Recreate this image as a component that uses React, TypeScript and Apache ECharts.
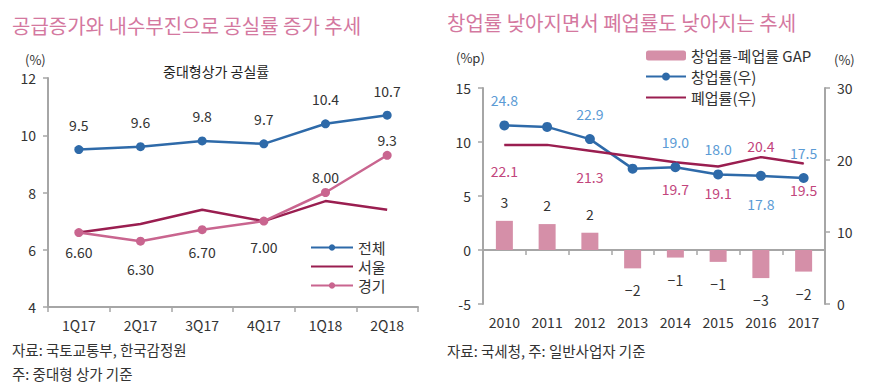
import React, { useEffect, useRef } from "react";
import * as echarts from "echarts";

const quarters = ["1Q17", "2Q17", "3Q17", "4Q17", "1Q18", "2Q18"];
const totalRate = [9.5, 9.6, 9.8, 9.7, 10.4, 10.7];
const seoulRate = [6.6, 6.9, 7.4, 7.0, 7.7, 7.4];
const gyeonggiRate = [6.6, 6.3, 6.7, 7.0, 8.0, 9.3];
const gyeonggiLabels = ["6.60", "6.30", "6.70", "7.00", "8.00", "9.3"];

const years = ["2010", "2011", "2012", "2013", "2014", "2015", "2016", "2017"];
const gapValues = [2.7, 2.4, 1.6, -1.7, -0.7, -1.1, -2.6, -2.0];
const startupRate = [24.8, 24.6, 22.9, 18.8, 19.0, 18.0, 17.8, 17.5];
const closureRate = [22.1, 22.1, 21.3, 20.5, 19.7, 19.1, 20.4, 19.5];
const startupLabelShown = [true, false, true, false, true, true, true, true];
const closureLabelShown = [true, false, true, false, true, true, true, true];

const FONT = "'Noto Sans CJK KR', 'Noto Sans', sans-serif";
const BLUE = "#2e6aa9";
const MAROON = "#9a1e50";
const PINK = "#c9658f";
const BAR = "#d58fa8";
const AXIS = "#a6a6a6";
const TXT = "#333333";
const TITLE = "#d4789f";

export default function App() {
  const ref = useRef<HTMLDivElement>(null);
  useEffect(() => {
    document.body.style.margin = "0";
    if (!ref.current) return;
    const chart = echarts.init(ref.current, null, { renderer: "svg" });
    const axisLine = { show: true, lineStyle: { color: AXIS, width: 2 } };
    const axisTick = { show: true, length: 5, lineStyle: { color: AXIS, width: 1.5 } };
    const axisLabel = { color: TXT, fontSize: 14, fontFamily: FONT };

    const option: any = {
      animation: false,
      textStyle: { fontFamily: FONT },
      graphic: [
        { type: "text", left: 12, top: 15, style: { text: "공급증가와 내수부진으로 공실률 증가 추세", fill: TITLE, font: `20px ${FONT}` } },
        { type: "text", left: 25, top: 53, style: { text: "(%)", fill: TXT, font: `13px ${FONT}` } },
        { type: "text", left: 163, top: 64, style: { text: "중대형상가 공실률", fill: "#222", font: `14px ${FONT}` } },
        { type: "text", left: 12, top: 342, style: { text: "자료: 국토교통부, 한국감정원", fill: TXT, font: `14.5px ${FONT}` } },
        { type: "text", left: 12, top: 366, style: { text: "주: 중대형 상가 기준", fill: TXT, font: `14.5px ${FONT}` } },
        { type: "text", left: 447, top: 12, style: { text: "창업률 낮아지면서 폐업률도 낮아지는 추세", fill: TITLE, font: `20px ${FONT}` } },
        { type: "text", left: 456, top: 51, style: { text: "(%p)", fill: TXT, font: `13px ${FONT}` } },
        { type: "text", left: 834, top: 53, style: { text: "(%)", fill: TXT, font: `13px ${FONT}` } },
        { type: "text", left: 447, top: 343, style: { text: "자료: 국세청, 주: 일반사업자 기준", fill: TXT, font: `14.5px ${FONT}` } },
      ],
      legend: [
        {
          orient: "vertical",
          left: 310,
          top: 240,
          padding: 0,
          itemWidth: 42,
          itemHeight: 8,
          itemGap: 4,
          data: ["전체", { name: "서울", itemStyle: { opacity: 0 } }, "경기"],
          textStyle: { color: TXT, fontSize: 15, fontFamily: FONT },
        },
        {
          orient: "vertical",
          left: 645,
          top: 48,
          padding: 0,
          itemWidth: 40,
          itemHeight: 10,
          itemGap: 6,
          data: [
            "창업률-폐업률 GAP",
            "창업률(우)",
            { name: "폐업률(우)", itemStyle: { opacity: 0 } },
          ],
          textStyle: { color: TXT, fontSize: 15, fontFamily: FONT },
        },
      ],
      grid: [
        { left: 48, top: 78, width: 370, height: 229 },
        { left: 483, top: 88, width: 342, height: 216 },
      ],
      xAxis: [
        {
          type: "category",
          gridIndex: 0,
          data: quarters,
          axisLine,
          axisTick: { ...axisTick, interval: 0 },
          axisLabel: { ...axisLabel, margin: 11 },
        },
        {
          type: "category",
          gridIndex: 1,
          data: years,
          position: "bottom",
          axisLine: { ...axisLine, onZero: true },
          axisTick: { ...axisTick, interval: 0 },
          axisLabel: { show: false },
        },
        {
          type: "category",
          gridIndex: 1,
          data: years,
          position: "bottom",
          offset: 0,
          axisLine: { show: false, onZero: false },
          axisTick: { show: false },
          axisLabel: { ...axisLabel, margin: 11 },
        },
      ],
      yAxis: [
        {
          type: "value",
          gridIndex: 0,
          min: 4,
          max: 12,
          interval: 2,
          axisLine,
          axisTick,
          splitLine: { show: false },
          axisLabel: { ...axisLabel, margin: 12 },
        },
        {
          type: "value",
          gridIndex: 1,
          min: -5,
          max: 15,
          interval: 5,
          axisLine,
          axisTick,
          splitLine: { show: false },
          axisLabel: { ...axisLabel, margin: 12 },
        },
        {
          type: "value",
          gridIndex: 1,
          position: "right",
          min: 0,
          max: 30,
          interval: 10,
          axisLine,
          axisTick,
          splitLine: { show: false },
          axisLabel: { ...axisLabel, margin: 12 },
        },
      ],
      series: [
        {
          name: "전체",
          type: "line",
          xAxisIndex: 0,
          yAxisIndex: 0,
          data: totalRate,
          symbol: "circle",
          symbolSize: 9,
          color: BLUE,
          lineStyle: { width: 2.5, color: BLUE },
          label: {
            show: true,
            position: "top",
            distance: 13,
            color: TXT,
            fontSize: 14,
            fontFamily: FONT,
            formatter: (p: any) => Number(p.value).toFixed(1),
          },
        },
        {
          name: "서울",
          type: "line",
          xAxisIndex: 0,
          yAxisIndex: 0,
          data: seoulRate,
          symbol: "none",
          color: MAROON,
          lineStyle: { width: 2.5, color: MAROON },
        },
        {
          name: "경기",
          type: "line",
          xAxisIndex: 0,
          yAxisIndex: 0,
          symbol: "circle",
          symbolSize: 9,
          color: PINK,
          lineStyle: { width: 2.5, color: PINK },
          data: gyeonggiRate.map((v, i) => ({
            value: v,
            label: {
              show: true,
              position: i >= 4 ? "top" : "bottom",
              distance: [8, 16, 11, 14, 4, 4][i],
              formatter: gyeonggiLabels[i],
              color: TXT,
              fontSize: 14,
              fontFamily: FONT,
            },
          })),
        },
        {
          name: "창업률-폐업률 GAP",
          type: "bar",
          xAxisIndex: 1,
          yAxisIndex: 1,
          barWidth: 17,
          color: BAR,
          itemStyle: { color: BAR },
          data: gapValues.map((v) => ({
            value: v,
            label: {
              show: true,
              position: v >= 0 ? "top" : "bottom",
              distance: v >= 0 ? 12 : 15,
              color: TXT,
              fontSize: 14,
              fontFamily: FONT,
              formatter: () => {
                const r = Math.round(v);
                return r < 0 ? "−" + Math.abs(r) : String(r);
              },
            },
          })),
        },
        {
          name: "창업률(우)",
          type: "line",
          xAxisIndex: 1,
          yAxisIndex: 2,
          symbol: "circle",
          symbolSize: 10,
          color: BLUE,
          lineStyle: { width: 2.5, color: BLUE },
          data: startupRate.map((v, i) => ({
            value: v,
            label: {
              show: startupLabelShown[i],
              position: i === 6 ? "bottom" : "top",
              distance: i === 6 ? 16 : 13,
              color: "#5b9bd5",
              fontSize: 14,
              fontFamily: FONT,
              formatter: v.toFixed(1),
            },
          })),
        },
        {
          name: "폐업률(우)",
          type: "line",
          xAxisIndex: 1,
          yAxisIndex: 2,
          symbol: "circle",
          symbolSize: 1,
          showSymbol: true,
          color: MAROON,
          lineStyle: { width: 2.5, color: MAROON },
          data: closureRate.map((v, i) => ({
            value: v,
            label: {
              show: closureLabelShown[i],
              position: i === 6 ? "top" : "bottom",
              distance: i === 6 ? 4 : 19,
              color: "#c2457c",
              fontSize: 14,
              fontFamily: FONT,
              formatter: v.toFixed(1),
            },
          })),
        },
      ],
    };
    chart.setOption(option);
    return () => chart.dispose();
  }, []);
  return <div ref={ref} style={{ width: 874, height: 391 }} />;
}
